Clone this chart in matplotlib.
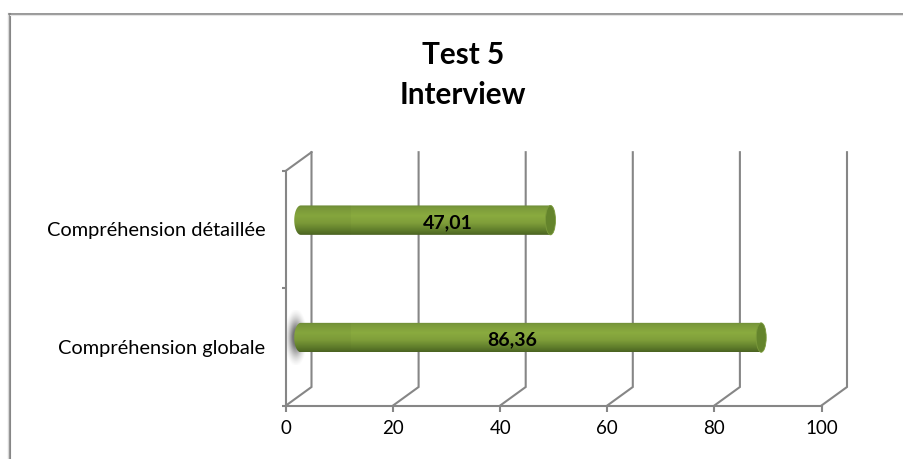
import matplotlib
matplotlib.use('Agg')
import matplotlib.pyplot as plt
import numpy as np
from matplotlib.colors import LinearSegmentedColormap
from matplotlib.lines import Line2D
from matplotlib.patches import Ellipse, PathPatch
from matplotlib.path import Path

categories = ['Compréhension globale', 'Compréhension détaillée']
values = [86.36, 47.01]
value_labels = ['86,36', '47,01']
x_ticks = [0, 20, 40, 60, 80, 100]
title = 'Test 5\nInterview'

W, H = 904, 459
GREY = '#868686'
plt.rcParams['font.family'] = ['Lato', 'DejaVu Sans']

fig = plt.figure(figsize=(W / 100, H / 100), dpi=100)
# front plane of the fake 3d box, in pixels
left, right, bottom, top = 286, 821.5, 405.5, 170.7
ax = fig.add_axes([left / W, 1 - bottom / H, (right - left) / W, (bottom - top) / H])
ax.set_xlim(0, 100)
ax.set_ylim(0, 2)
ax.patch.set_alpha(0)

px_x = (right - left) / 100
px_y = (bottom - top) / 2
dx = 25.5 / px_x  # depth of the box
dy = 18.5 / px_y

for s in ['top', 'right']:
    ax.spines[s].set_visible(False)
for s in ['left', 'bottom']:
    ax.spines[s].set_color(GREY)
    ax.spines[s].set_linewidth(1.5)

# back wall and floor lines
for x in x_ticks:
    ax.plot([x, x + dx, x + dx], [0, dy, 2 + dy], color=GREY, lw=1.5, clip_on=False, zorder=1,
            solid_joinstyle='miter')
ax.plot([0, dx], [2, 2 + dy], color=GREY, lw=1.5, clip_on=False, zorder=1)

ax.set_xticks(x_ticks)
ax.set_xticklabels(x_ticks)
ax.set_yticks([0, 1, 2])
ax.set_yticklabels([])
ax.tick_params(axis='x', length=4, width=1.5, color=GREY, labelsize=13.5, pad=6.5, labelcolor='black')
ax.tick_params(axis='y', length=3, width=1.5, color=GREY)
ax.set_yticks([0.5, 1.5], minor=True)
ax.set_yticklabels(categories, minor=True)
ax.tick_params(axis='y', which='minor', length=0, labelsize=14.4, pad=15, labelcolor='black')

green = LinearSegmentedColormap.from_list('bar', [
    (0.0, '#6e8d38'), (0.08, '#7b9a3b'), (0.35, '#8aab3f'), (0.6, '#7f9e3a'),
    (0.85, '#5f7d2b'), (1.0, '#4b6322')])
grad = np.linspace(0, 1, 64).reshape(-1, 1)
half_h = 14.7 / px_y
cap_w = 5 / px_x
left_cap = 6.5 / px_x
x0 = dx / 2
xl = x0 + 2 / px_x  # centre of the rounded left end

# soft shadow next to the first bar
sy, sx = np.mgrid[-1:1:80j, -1:1:40j]
alpha = np.clip(np.exp(-(sx ** 2 + sy ** 2) * 2.2) * 1.2 - 0.1, 0, 0.9)
shadow = np.zeros((80, 40, 4))
shadow[..., :3] = 0.4
shadow[..., 3] = alpha
ax.imshow(shadow, extent=[x0 - 2.6, x0 + 1.4, 0.5 + dy / 2 - 0.23, 0.5 + dy / 2 + 0.23],
          aspect='auto', zorder=2, clip_on=False)

for i, v in enumerate(values):
    yc = i + 0.5 + dy / 2
    x1 = x0 + v
    t = np.linspace(np.pi / 2, 3 * np.pi / 2, 30)
    verts = [(x1, yc + half_h)]
    verts += list(zip(xl + left_cap * np.cos(t), yc + half_h * np.sin(t)))
    verts += [(x1, yc - half_h), (x1, yc + half_h)]
    outline = PathPatch(Path(verts), transform=ax.transData, fc='none', ec='none')
    ax.add_patch(outline)
    im = ax.imshow(grad, cmap=green, extent=[xl - left_cap, x1, yc - half_h, yc + half_h],
                   aspect='auto', zorder=3, vmin=0, vmax=1, interpolation='bilinear')
    im.set_clip_path(outline)
    # the slightly darker left part of the cylinder
    ax.fill_between([xl - left_cap, x0 + 9.8], yc - half_h, yc + half_h, color='#4b6322', alpha=0.07,
                    lw=0, zorder=3.5).set_clip_path(outline)
    ax.add_patch(Ellipse((x1, yc), 2 * cap_w, 2 * half_h, fc='#64842c', ec='#7b9a3b', lw=0.6, zorder=4))

# labels sit off-centre in the original
label_x = [42.2, 30.2]
label_y = [0.5, 1.5]
for i, lab in enumerate(value_labels):
    ax.text(label_x[i], label_y[i] + 0.06, lab, ha='center', va='center', fontsize=14,
            fontweight='bold', color='black', zorder=5)

ax.set_xlim(0, 100)
ax.set_ylim(0, 2)

# chart frame, only left and top are in the picture
for xs, ys, c, lw in [([9.5, 9.5], [13.5, 459], GREY, 1.5),
                      ([7.8, 7.8], [13, 459], '#d9d9d9', 1.0),
                      ([9, 904], [13.5, 13.5], GREY, 1.2),
                      ([10, 904], [15, 15], '#e4e4e4', 0.8)]:
    fig.add_artist(Line2D(np.array(xs) / W, 1 - np.array(ys) / H, color=c, lw=lw))

fig.text(463 / W, 1 - 75 / H, title, ha='center', va='center', fontsize=21.4, fontweight='bold',
         color='black', linespacing=1.5)

fig.savefig('out.png', dpi=100)
